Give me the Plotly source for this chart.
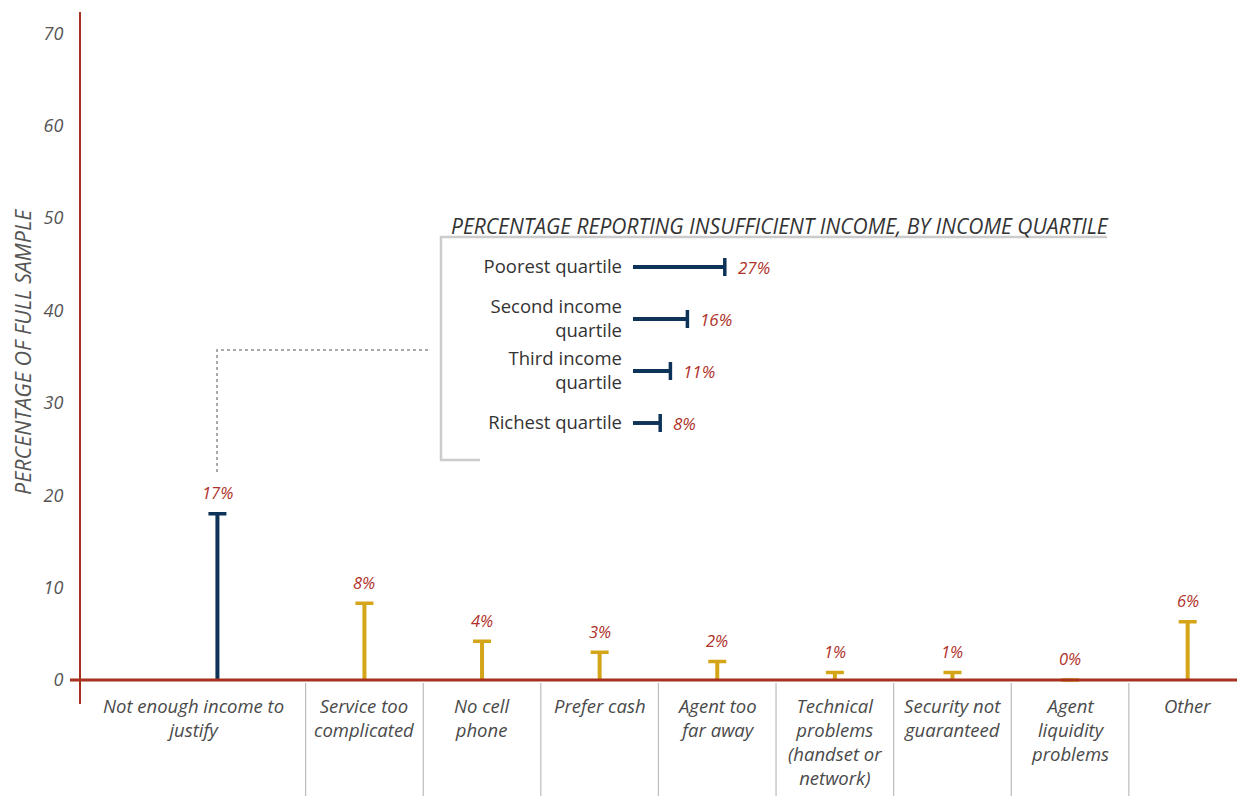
import plotly.graph_objects as go

# ---------------- data ----------------
categories = ["Not enough income to justify", "Service too complicated", "No cell phone",
              "Prefer cash", "Agent too far away", "Technical problems (handset or network)",
              "Security not guaranteed", "Agent liquidity problems", "Other"]
category_labels = ["Not enough income to<br>justify", "Service too<br>complicated", "No cell<br>phone",
                   "Prefer cash", "Agent too<br>far away", "Technical<br>problems<br>(handset or<br>network)",
                   "Security not<br>guaranteed", "Agent<br>liquidity<br>problems", "Other"]
values = [18.0, 8.3, 4.2, 3.0, 2.0, 0.8, 0.8, 0.0, 6.3]
value_labels = ["17%", "8%", "4%", "3%", "2%", "1%", "1%", "0%", "6%"]

quartiles = ["Poorest quartile", "Second income<br>quartile", "Third income<br>quartile", "Richest quartile"]
quartile_values = [27, 16, 11, 8]
quartile_labels = ["27%", "16%", "11%", "8%"]

y_ticks = [0, 10, 20, 30, 40, 50, 60, 70]

# ---------------- style ----------------
W, H = 1250, 796
PAGE_OFF = 8                      # page body margin in the screenshot
SCR_LEFT, SCR_TOP, SCR_BOTTOM, SCR_RIGHT = 81, 12, 704, 1250   # plot area in screenshot pixels
ML = SCR_LEFT - PAGE_OFF
MT = SCR_TOP - PAGE_OFF
MB = H - (SCR_BOTTOM - PAGE_OFF)
MR = W - (SCR_RIGHT - PAGE_OFF)
PW, PH = W - ML - MR, H - MT - MB
X_RANGE = [-1.41, 8.53]
Y_RANGE = [-2.6, 72.3]
PX_PER_X = PW / (X_RANGE[1] - X_RANGE[0])
FIRST_SHIFT = -0.25  # highlighted category bar sits left of its slot centre

NAVY = "#0d3359"
GOLD = "#d4a519"
RED_TXT = "#b0322a"
RED_AX = "#a8301f"
GRAY_TXT = "#4a4a4a"
FONT = "Open Sans"
BAR_W = 0.034


def px_x(px):
    return (px - SCR_LEFT) / PW


def px_y(py):
    return (SCR_BOTTOM - py) / PH


fig = go.Figure()

# highlighted bar
fig.add_trace(go.Bar(
    x=categories[:1], y=values[:1], width=BAR_W, offset=-BAR_W / 2 + FIRST_SHIFT,
    marker=dict(color=NAVY, line=dict(width=0)),
    error_y=dict(type="data", array=[0], visible=True, color=NAVY, thickness=3.5, width=9),
    hoverinfo="skip", showlegend=False))
# other bars
fig.add_trace(go.Bar(
    x=categories[1:], y=values[1:], width=BAR_W, offset=-BAR_W / 2,
    marker=dict(color=GOLD, line=dict(width=0)),
    error_y=dict(type="data", array=[0] * (len(values) - 1), visible=True, color=GOLD, thickness=3.5, width=9),
    hoverinfo="skip", showlegend=False))

# inset bars
fig.add_trace(go.Bar(
    x=quartile_values, y=quartiles, orientation="h", width=0.075,
    marker=dict(color=NAVY, line=dict(width=0)),
    error_x=dict(type="data", array=[0] * len(quartile_values), visible=True, color=NAVY, thickness=3.5, width=9),
    xaxis="x2", yaxis="y2", hoverinfo="skip", showlegend=False))

annotations = []
# value labels
for i, (c, v, t) in enumerate(zip(categories, values, value_labels)):
    annotations.append(dict(
        x=c, y=v, xref="x", yref="y", text=t, showarrow=False, yshift=21,
        xshift=FIRST_SHIFT * PX_PER_X if i == 0 else 0,
        font=dict(family=FONT, size=16.5, color=RED_TXT, style="italic")))
# category labels
for i, (c, lab) in enumerate(zip(categories, category_labels)):
    xpos = (X_RANGE[0] + 0.5) / 2 if i == 0 else i
    annotations.append(dict(
        x=xpos, y=0, xref="x", yref="y", text=lab, showarrow=False, yshift=-11,
        yanchor="top", xanchor="center", align="center",
        font=dict(family=FONT, size=18.5, color=GRAY_TXT, style="italic")))
# inset value labels
for q, v, t in zip(quartiles, quartile_values, quartile_labels):
    annotations.append(dict(
        x=v, y=q, xref="x2", yref="y2", text=t, showarrow=False, xshift=11, xanchor="left",
        font=dict(family=FONT, size=17, color=RED_TXT, style="italic")))
# y title
annotations.append(dict(
    x=px_x(22), y=px_y(352), xref="paper", yref="paper", text="PERCENTAGE OF FULL SAMPLE",
    textangle=-90, showarrow=False, xanchor="center", yanchor="middle",
    font=dict(family=FONT, size=21.5, color="#555555", style="italic")))
# inset title
annotations.append(dict(
    x=px_x(449), y=px_y(226), xref="paper", yref="paper",
    text="PERCENTAGE REPORTING INSUFFICIENT INCOME, BY INCOME QUARTILE",
    showarrow=False, xanchor="left", yanchor="middle",
    font=dict(family=FONT, size=21, color="#333333", style="italic")))

shapes = []
# category separators
for i in range(len(categories)):
    shapes.append(dict(type="line", xref="x", yref="paper", x0=i + 0.5, x1=i + 0.5,
                       y0=px_y(683), y1=px_y(810), line=dict(color="#bbbbbb", width=1.2)))
# x-axis red line
shapes.append(dict(type="line", xref="paper", yref="y", x0=px_x(70), x1=px_x(1237), y0=0, y1=0,
                   line=dict(color=RED_AX, width=3), layer="above"))
# inset frame
shapes.append(dict(type="path", xref="paper", yref="paper",
                   path=f"M {px_x(480)},{px_y(460)} L {px_x(441)},{px_y(460)} L {px_x(441)},{px_y(237)} L {px_x(1107)},{px_y(237)}",
                   line=dict(color="#cccccc", width=2.5)))
# dotted connector
shapes.append(dict(type="path", xref="paper", yref="paper",
                   path=f"M {px_x(217)},{px_y(472)} L {px_x(217)},{px_y(350)} L {px_x(431)},{px_y(350)}",
                   line=dict(color="#aaaaaa", width=2, dash="dot")))

fig.update_layout(
    width=W, height=H, margin=dict(l=ML, r=MR, t=MT, b=MB, autoexpand=False),
    paper_bgcolor="white", plot_bgcolor="white", barmode="overlay",
    showlegend=False,
    xaxis=dict(type="category", categoryorder="array", categoryarray=categories,
               range=X_RANGE, showticklabels=False, showgrid=False, zeroline=False,
               showline=False, ticks="", fixedrange=True),
    yaxis=dict(range=Y_RANGE, tickvals=y_ticks, showgrid=False, zeroline=False,
               showline=True, linecolor=RED_AX, linewidth=2, ticks="", ticklabelstandoff=12,
               tickfont=dict(family=FONT, size=18, color="#555555", style="italic")),
    xaxis2=dict(domain=[px_x(633), px_x(633 + 40 * 3.4)], range=[0, 40], visible=False,
                anchor="y2", fixedrange=True),
    yaxis2=dict(domain=[px_y(449), px_y(241)], type="category", range=[3.5, -0.5],
                anchor="x2", showgrid=False, zeroline=False, showline=False, ticks="",
                ticklabelstandoff=10,
                tickfont=dict(family=FONT, size=18.5, color="#333333")),
    annotations=annotations, shapes=shapes,
)

fig.write_html("out.html")
